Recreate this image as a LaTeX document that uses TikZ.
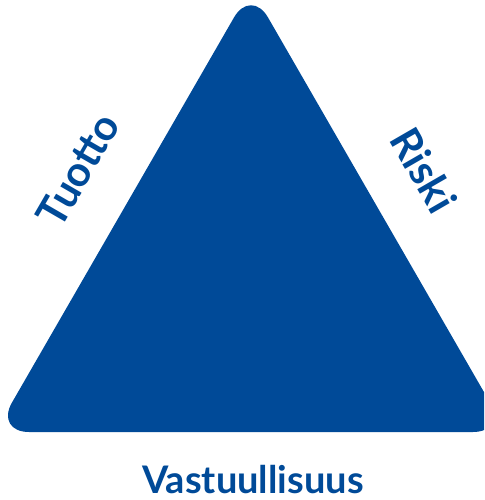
\documentclass[tikz,border=0pt]{standalone}
\usepackage{fontspec}
\setmainfont{Lato}
\definecolor{tblue}{RGB}{0,74,152}
\begin{document}
\begin{tikzpicture}[x=1pt,y=-1pt,
  lbl/.style={text=tblue,font=\fontsize{38}{40}\selectfont\bfseries,inner sep=0pt},
  side/.style={lbl,font=\fontsize{42}{44}\selectfont\bfseries}]
\useasboundingbox (0,0) rectangle (484,500);
\begin{scope}
\clip (0,0) rectangle (484,500);
\fill[tblue,rounded corners=34pt] (251,-12) -- (507,432) -- (-5,432) -- cycle;
\end{scope}
\node[lbl,anchor=base] (v) at (253,493) {Vastuullisuus};
\node[side,rotate=60] (t) at (78,170) {Tuotto};
\node[side,rotate=-60] (r) at (424,170) {Riski};
\end{tikzpicture}
\end{document}
